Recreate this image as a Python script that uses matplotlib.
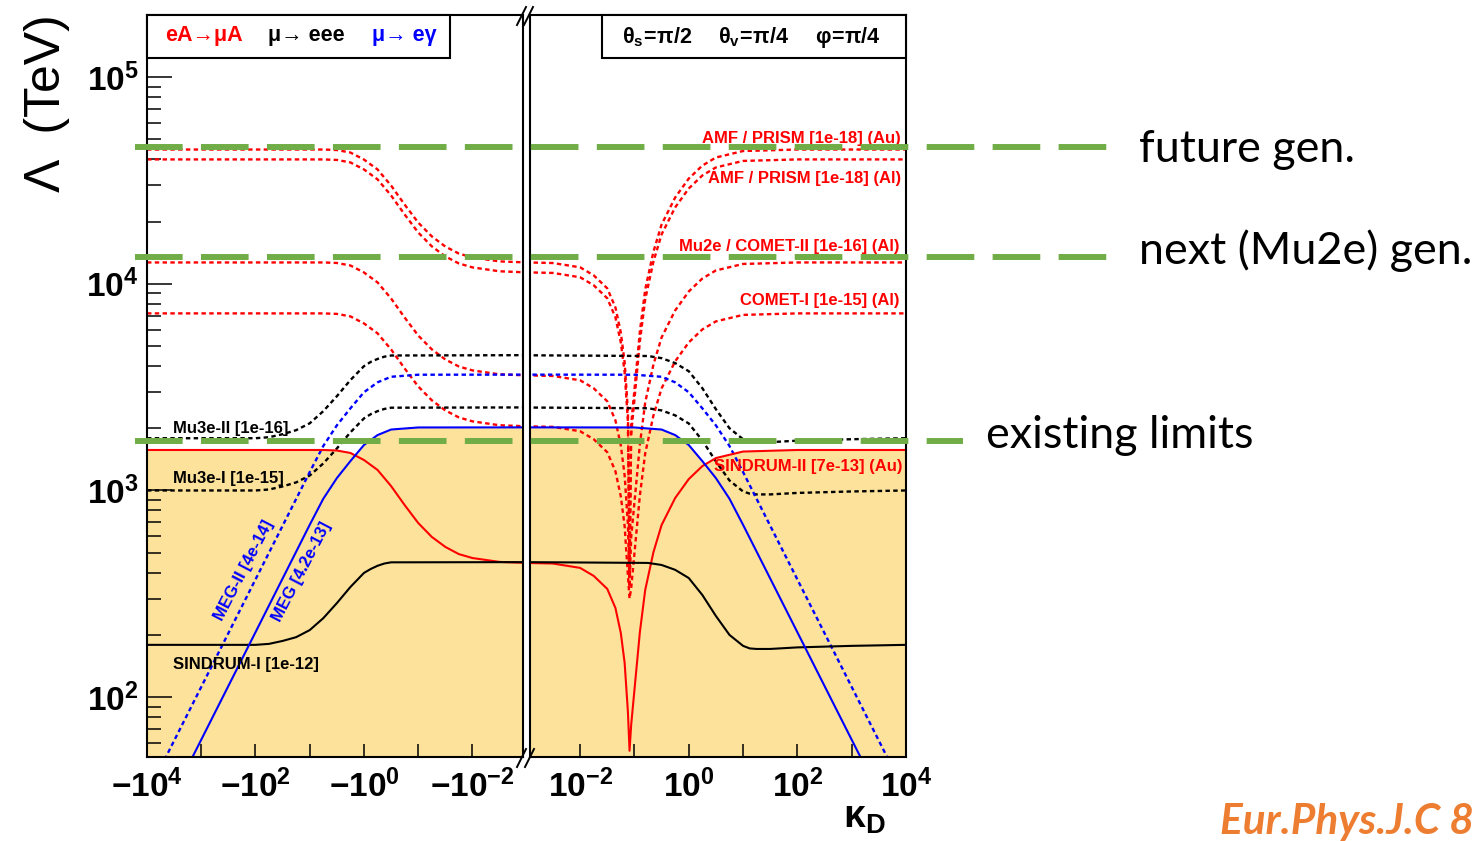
import numpy as np
import matplotlib
matplotlib.use("Agg")
import matplotlib.pyplot as plt
from matplotlib.lines import Line2D
from matplotlib.patches import Rectangle
from matplotlib.ticker import FixedLocator, FixedFormatter, NullLocator, LogLocator, NullFormatter

W, H = 1481, 841

# ---------------- data ----------------
# eA -> muA (red); negative kappa_D side
KAPPA_NEG_RED = [-1e4, -5.62, -3.16, -1.78, -1.0, -0.562, -0.316, -0.178, -0.1,
                 -0.0562, -0.0316, -0.0178, -0.01, -0.00316, -0.001]
SINDRUM2_NEG = [1570, 1570, 1561, 1519, 1404, 1257, 1050, 850, 696, 596, 533, 492, 471, 451, 446]
AMF_AU_NEG = [44670, 44670, 44410, 43200, 39940, 35770, 29890, 24180, 19790, 16970, 15150, 14010, 13410, 12840, 12690]
AMF_AL_NEG = [40000, 40000, 39770, 38690, 35770, 32030, 26760, 21660, 17720, 15190, 13570, 12550, 12010, 11500, 11360]
MU2E_NEG = [12690, 12690, 12620, 12270, 11350, 10160, 8491, 6870, 5623, 4820, 4304, 3981, 3811, 3647, 3605]
COMET1_NEG = [7194, 7194, 7153, 6958, 6433, 5760, 4813, 3895, 3188, 2732, 2440, 2257, 2160, 2068, 2044]

# eA -> muA (red); positive kappa_D side
KAPPA_POS_RED = [0.001, 0.00316, 0.01, 0.0178, 0.0316, 0.0447, 0.0562, 0.0661, 0.0759, 0.0813,
                 0.0871, 0.1, 0.126, 0.158, 0.224, 0.316, 0.562, 1.0, 1.78, 3.16, 10, 100, 1e4]
SINDRUM2_POS = [446, 443, 422, 386, 334, 270, 204, 146, 84.7, 55, 73.3, 108, 206.5, 330, 503, 680,
                919, 1135, 1312, 1435, 1543, 1570, 1570]
AMF_AU_POS = [12700, 12610, 12020, 10990, 9510, 7688, 5807, 4159, 2412, 400, 2086, 3073, 5879, 9394,
              14320, 19360, 26160, 32310, 37350, 40860, 43930, 44670, 44670]
AMF_AL_POS = [11370, 11290, 10760, 9840, 8516, 6884, 5200, 3724, 2160, 380, 1868, 2752, 5264, 8412,
              12820, 17340, 23430, 28940, 33450, 36580, 39340, 40000, 40000]
MU2E_POS = [3608, 3582, 3414, 3122, 2702, 2184, 1650, 1181, 685, 340, 593, 873, 1670, 2669, 4068,
            5500, 7433, 9180, 10610, 11610, 12480, 12690, 12690]
COMET1_POS = [2045, 2031, 1935, 1770, 1532, 1238, 935, 670, 388, 300, 336, 495, 947, 1513, 2306,
              3118, 4214, 5204, 6016, 6580, 7075, 7194, 7194]

# mu -> eee (black)
KAPPA_NEG_BLACK = [-1e4, -100, -56.2, -31.6, -17.8, -10, -5.62, -3.16, -1.78, -1.0, -0.75, -0.562,
                   -0.422, -0.316, -0.001]
SINDRUM1_NEG = [179, 179, 181, 187, 195, 211, 241, 285, 341, 399, 417, 432, 443, 449, 450]
MU3E1_NEG = [1000, 1000, 1011, 1046, 1094, 1181, 1352, 1597, 1911, 2232, 2340, 2420, 2480, 2515, 2523]
MU3E2_NEG = [1790, 1790, 1810, 1872, 1958, 2114, 2420, 2859, 3421, 3995, 4190, 4330, 4440, 4500, 4516]
KAPPA_POS_BLACK = [0.001, 0.178, 0.316, 0.562, 1.0, 1.78, 3.16, 5.62, 10, 13.3, 17.8, 31.6, 100, 1000, 1e4]
SINDRUM1_POS = [450, 446, 436, 413, 377, 312, 247, 200, 177, 172, 171, 171, 174, 177, 179]
MU3E1_POS = [2520, 2500, 2440, 2310, 2110, 1746, 1382, 1118, 989, 965, 957, 957, 973, 989, 1000]
MU3E2_POS = [4511, 4475, 4368, 4135, 3777, 3125, 2474, 2001, 1770, 1727, 1713, 1713, 1742, 1770, 1790]

# mu -> e gamma (blue), symmetric in |kappa_D|
KAPPA_ABS_BLUE = [1e4, 1000, 100, 31.6, 10, 5.62, 3.16, 1.78, 1.0, 0.562, 0.316, 0.1, 0.001]
MEG = [18.8, 62.2, 206, 375, 682, 912, 1148, 1387, 1660, 1854, 1972, 2018, 2020]
MEG2 = [33.8, 112, 371, 675, 1228, 1642, 2066, 2497, 2988, 3337, 3550, 3632, 3636]

# ticks
XTICKS_NEG = [1e4, 1e3, 1e2, 1e1, 1e0, 1e-1, 1e-2]
XLABELS_NEG = [r'$-10^{4}$', '', r'$-10^{2}$', '', r'$-10^{0}$', '', r'$-10^{-2}$']
XTICKS_POS = [1e-2, 1e-1, 1e0, 1e1, 1e2, 1e3, 1e4]
XLABELS_POS = [r'$10^{-2}$', '', r'$10^{0}$', '', r'$10^{2}$', '', r'$10^{4}$']
YTICKS = [1e2, 1e3, 1e4, 1e5]
YLABELS = [r'$10^{2}$', r'$10^{3}$', r'$10^{4}$', r'$10^{5}$']

# slide overlay labels
GUIDE_LABELS = ['future gen.', 'next (Mu2e) gen.', 'existing limits']

# ---------------- style ----------------
plt.rcParams['font.family'] = ['Liberation Sans', 'DejaVu Sans']
plt.rcParams['mathtext.fontset'] = 'custom'
plt.rcParams['mathtext.rm'] = 'Liberation Sans:bold'
plt.rcParams['mathtext.bf'] = 'Liberation Sans:bold'
plt.rcParams['mathtext.it'] = 'Liberation Sans:bold'
plt.rcParams['mathtext.sf'] = 'Liberation Sans:bold'
plt.rcParams['mathtext.default'] = 'bf'
plt.rcParams['lines.scale_dashes'] = False

RED, BLUE, BLACK = '#FF0000', '#0000FF', '#000000'
FILL = '#FDE29B'
GREEN = '#70AD47'
DOT = (0, (3.2, 2.4))
XMIN, XMAX = 1.17e-3, 1e4
YMIN, YMAX = 51.3, 2.0e5


def fx(x):
    return x / W


def fy(y):
    return 1 - y / H


fig = plt.figure(figsize=(W / 100, H / 100), dpi=100)
fig.patch.set_facecolor('white')
ax_l = fig.add_axes([fx(147), fy(757), (523 - 147) / W, (757 - 15) / H])
ax_r = fig.add_axes([fx(529.5), fy(757), (906 - 529.5) / W, (757 - 15) / H])

for ax in (ax_l, ax_r):
    ax.set_xscale('log')
    ax.set_yscale('log')
    ax.set_ylim(YMIN, YMAX)
    for s in ax.spines.values():
        s.set_linewidth(1.5)
        s.set_zorder(5)
    ax.xaxis.set_minor_locator(NullLocator())
    ax.tick_params(axis='x', which='major', direction='in', length=9.5, width=1.1,
                   labelsize=24, pad=9, top=False)
ax_l.set_xlim(XMAX, XMIN)
ax_r.set_xlim(XMIN, XMAX)

ax_l.xaxis.set_major_locator(FixedLocator(XTICKS_NEG))
ax_l.xaxis.set_major_formatter(FixedFormatter(XLABELS_NEG))
ax_r.xaxis.set_major_locator(FixedLocator(XTICKS_POS))
ax_r.xaxis.set_major_formatter(FixedFormatter(XLABELS_POS))

ax_l.yaxis.set_major_locator(FixedLocator(YTICKS))
ax_l.yaxis.set_major_formatter(FixedFormatter(YLABELS))
ax_l.yaxis.set_minor_locator(LogLocator(base=10, subs=np.arange(2, 10)))
ax_l.yaxis.set_minor_formatter(NullFormatter())
ax_l.tick_params(axis='y', which='major', direction='in', length=18, width=1.1,
                 labelsize=24, pad=6, right=False)
ax_l.tick_params(axis='y', which='minor', direction='in', length=10, width=1.1, right=False)
ax_r.tick_params(axis='y', which='both', left=False, right=False, labelleft=False)
ax_r.yaxis.set_minor_formatter(NullFormatter())


def kabs(k):
    return np.abs(np.asarray(k, dtype=float))


# yellow excluded region: union of areas under the existing-limit (solid) curves
for ax, k, v in [(ax_l, KAPPA_NEG_RED, SINDRUM2_NEG), (ax_l, KAPPA_NEG_BLACK, SINDRUM1_NEG),
                 (ax_l, KAPPA_ABS_BLUE, MEG),
                 (ax_r, KAPPA_POS_RED, SINDRUM2_POS), (ax_r, KAPPA_POS_BLACK, SINDRUM1_POS),
                 (ax_r, KAPPA_ABS_BLUE, MEG)]:
    ax.fill_between(kabs(k), v, YMIN * 0.5, color=FILL, lw=0, zorder=0.5)

# dashed projections
for ax, k, vs, c in [
    (ax_l, KAPPA_NEG_RED, [AMF_AU_NEG, AMF_AL_NEG, MU2E_NEG, COMET1_NEG], RED),
    (ax_r, KAPPA_POS_RED, [AMF_AU_POS, AMF_AL_POS, MU2E_POS, COMET1_POS], RED),
    (ax_l, KAPPA_NEG_BLACK, [MU3E1_NEG, MU3E2_NEG], BLACK),
    (ax_r, KAPPA_POS_BLACK, [MU3E1_POS, MU3E2_POS], BLACK),
    (ax_l, KAPPA_ABS_BLUE, [MEG2], BLUE),
    (ax_r, KAPPA_ABS_BLUE, [MEG2], BLUE)]:
    for v in vs:
        ax.plot(kabs(k), v, color=c, lw=1.7, linestyle=DOT, zorder=2)

# solid existing limits
for ax, k, v, c in [(ax_l, KAPPA_NEG_RED, SINDRUM2_NEG, RED), (ax_r, KAPPA_POS_RED, SINDRUM2_POS, RED),
                    (ax_l, KAPPA_NEG_BLACK, SINDRUM1_NEG, BLACK), (ax_r, KAPPA_POS_BLACK, SINDRUM1_POS, BLACK),
                    (ax_l, KAPPA_ABS_BLUE, MEG, BLUE), (ax_r, KAPPA_ABS_BLUE, MEG, BLUE)]:
    ax.plot(kabs(k), v, color=c, lw=1.5, zorder=3)

# axis break marks
for (x0, y0, x1, y1) in [(517, 25, 526, 7), (524, 25, 533, 7), (517, 767, 526, 749), (525, 767, 534, 749)]:
    fig.add_artist(Line2D([fx(x0), fx(x1)], [fy(y0), fy(y1)], color='black', lw=1.4,
                          transform=fig.transFigure, zorder=6))

# header boxes
for (x0, x1) in [(147, 450), (602, 906)]:
    fig.add_artist(Rectangle((fx(x0), fy(58)), (x1 - x0) / W, 43 / H, facecolor='white',
                             edgecolor='black', lw=1.5, transform=fig.transFigure, zorder=7))
hdr = dict(fontsize=15.5, fontweight='bold', va='center', ha='left', zorder=8)
fig.text(fx(165), fy(36), 'eA→μA', color=RED, **hdr)
fig.text(fx(268), fy(36), 'μ→ eee', color=BLACK, **hdr)
fig.text(fx(372), fy(36), 'μ→ eγ', color=BLUE, **hdr)
fig.text(fx(622), fy(37), r'$\theta_{s}\!=\!\pi/2$', color=BLACK, **hdr)
fig.text(fx(718), fy(37), r'$\theta_{v}\!=\!\pi/4$', color=BLACK, **hdr)
fig.text(fx(815), fy(37), r'$\varphi\!=\!\pi/4$', color=BLACK, **hdr)

# curve labels
lab = dict(fontsize=12, fontweight='bold', va='center', zorder=4)
fig.text(fx(173), fy(428), 'Mu3e-II [1e-16]', color=BLACK, ha='left', **lab)
fig.text(fx(173), fy(478), 'Mu3e-I [1e-15]', color=BLACK, ha='left', **lab)
fig.text(fx(173), fy(664), 'SINDRUM-I [1e-12]', color=BLACK, ha='left', **lab)
fig.text(fx(244), fy(570), 'MEG-II [4e-14]', color=BLUE, ha='center', rotation=62.5,
         rotation_mode='anchor', **lab)
fig.text(fx(302), fy(572), 'MEG [4.2e-13]', color=BLUE, ha='center', rotation=62.5,
         rotation_mode='anchor', **lab)
fig.text(fx(901), fy(139), 'AMF / PRISM [1e-18] (Au)', color=RED, ha='right', **lab)
fig.text(fx(901), fy(179), 'AMF / PRISM [1e-18] (Al)', color=RED, ha='right', **lab)
fig.text(fx(899), fy(247), 'Mu2e / COMET-II [1e-16] (Al)', color=RED, ha='right', **lab)
fig.text(fx(899), fy(301), 'COMET-I [1e-15] (Al)', color=RED, ha='right', **lab)
fig.text(fx(903), fy(467), 'SINDRUM-II [7e-13] (Au)', color=RED, ha='right', **lab)

# axis titles
fig.text(fx(47), fy(103), 'Λ  (TeV)', rotation=90, ha='center', va='center', fontsize=36,
         family=['Liberation Sans', 'DejaVu Sans'])
fig.text(fx(864), fy(818), r'$\kappa_{D}$', ha='center', va='center', fontsize=28)

# green guide lines (slide overlay)
for (y, x1) in [(147, 1107), (257, 1107), (440.5, 963)]:
    fig.add_artist(Line2D([fx(135), fx(x1)], [fy(y), fy(y)], color=GREEN, lw=4.3,
                          dashes=(34.3, 13.2), dash_capstyle='butt',
                          transform=fig.transFigure, zorder=9))
ann = dict(fontsize=32.3, family=['Lato', 'DejaVu Sans'], va='center', ha='left', color='black', zorder=9)
fig.text(fx(1139), fy(150), GUIDE_LABELS[0], **ann)
fig.text(fx(1139), fy(251), GUIDE_LABELS[1], **ann)
fig.text(fx(986), fy(436), GUIDE_LABELS[2], **ann)
fig.text(fx(1220), fy(834), 'Eur.Phys.J.C 8', fontsize=30.5, family=['Lato', 'DejaVu Sans'],
         fontweight='bold', fontstyle='italic', color='#ED7D31', ha='left', va='baseline', zorder=9)

fig.savefig('out.png', dpi=100)
